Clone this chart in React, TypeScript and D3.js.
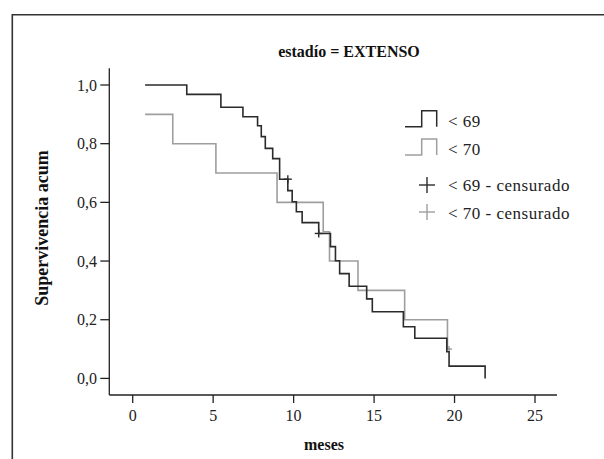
import React from "react";
import * as d3 from "d3";

// ---- data ----
const title = "estadío = EXTENSO";
const xLabel = "meses";
const yLabel = "Supervivencia acum";
const xTicks = [0, 5, 10, 15, 20, 25];
const yTicks = [0, 0.2, 0.4, 0.6, 0.8, 1.0];

// Group "< 69" (black)
const blackTimes = [0.77, 3.36, 5.48, 6.85, 7.76, 7.99, 8.24, 8.7, 9.13, 9.64, 9.91, 10.17, 10.53, 11.56, 12.29, 12.6, 12.86, 13.45, 14.54, 14.89, 16.82, 17.53, 19.52, 19.66, 21.9];
const blackSurv = [1.0, 0.968, 0.924, 0.892, 0.861, 0.824, 0.784, 0.749, 0.679, 0.64, 0.602, 0.568, 0.531, 0.494, 0.449, 0.401, 0.357, 0.314, 0.271, 0.227, 0.176, 0.137, 0.091, 0.042, 0.0];
const blackCensorTimes = [9.64, 11.56];
const blackCensorSurv = [0.679, 0.494];

// Group "< 70" (gray)
const grayTimes = [0.77, 2.49, 5.17, 8.97, 11.84, 12.23, 14.0, 16.9, 19.56, 19.72];
const graySurv = [0.9, 0.8, 0.7, 0.6, 0.5, 0.4, 0.3, 0.2, 0.1, 0.1];
const grayCensorTimes = [19.66];
const grayCensorSurv = [0.1];

const legendLabels = ["< 69", "< 70", "< 69 - censurado", "< 70 - censurado"];

const BLACK = "#2b2b2b";
const GRAY = "#9e9e9e";
const FONT = "'Liberation Serif', 'Times New Roman', serif";

export default function App() {
  const x = d3.scaleLinear().domain([0, 25]).range([132.7, 535]);
  const y = d3.scaleLinear().domain([0, 1]).range([378.4, 85]);
  const axisX0 = 109.3;
  const axisY0 = 395;
  const axisXEnd = 557;
  const axisYTop = 68.3;

  const line = d3
    .line<[number, number]>()
    .x((d) => x(d[0]))
    .y((d) => y(d[1]))
    .curve(d3.curveStepAfter);

  const blackPts: [number, number][] = blackTimes.map((t, i) => [t, blackSurv[i]]);
  const grayPts: [number, number][] = grayTimes.map((t, i) => [t, graySurv[i]]);
  const fmt = (v: number) => d3.format(".1f")(v).replace(".", ",");

  const cross = (cx: number, cy: number, r: number, color: string, key: string) => (
    <g key={key} stroke={color} strokeWidth={1.4}>
      <line x1={cx - r} x2={cx + r} y1={cy} y2={cy} />
      <line x1={cx} x2={cx} y1={cy - r} y2={cy + r} />
    </g>
  );

  const legX = 405;
  const legText = 448;
  const stepSym = (bottom: number) =>
    `M${legX},${bottom}H${legX + 16.7}V${bottom - 16}H${legX + 31.7}V${bottom}`;
  const legStyle = { letterSpacing: "0.5px" };

  return (
    <svg
      width={604}
      height={459}
      style={{ position: "absolute", left: 0, top: 0, background: "#fff" }}
      fontFamily={FONT}
    >
      <rect x={0} y={0} width={604} height={459} fill="#fff" />
      {/* frame */}
      <path d="M12.3,470V14.8H610" fill="none" stroke="#333" strokeWidth={1.6} />

      {/* title */}
      <text x={349} y={57} textAnchor="middle" fontSize={16} fontWeight="bold" fill="#111">
        {title}
      </text>

      {/* axes */}
      <line x1={axisX0} x2={axisX0} y1={axisYTop} y2={axisY0} stroke="#222" strokeWidth={1.3} />
      <line x1={axisX0} x2={axisXEnd} y1={axisY0} y2={axisY0} stroke="#222" strokeWidth={1.3} />
      {yTicks.map((v) => (
        <g key={"y" + v}>
          <line x1={axisX0 - 9} x2={axisX0} y1={y(v)} y2={y(v)} stroke="#222" strokeWidth={1.3} />
          <text x={97} y={y(v) + 5.5} textAnchor="end" fontSize={16} fill="#222">
            {fmt(v)}
          </text>
        </g>
      ))}
      {xTicks.map((v) => (
        <g key={"x" + v}>
          <line x1={x(v)} x2={x(v)} y1={axisY0} y2={axisY0 + 8} stroke="#222" strokeWidth={1.3} />
          <text x={x(v)} y={421} textAnchor="middle" fontSize={16} fill="#222">
            {v}
          </text>
        </g>
      ))}
      <text x={324} y={450} textAnchor="middle" fontSize={16} fontWeight="bold" fill="#111">
        {xLabel}
      </text>
      <text
        transform={`translate(48,228) rotate(-90)`}
        textAnchor="middle"
        fontSize={18}
        fontWeight="bold"
        fill="#111"
      >
        {yLabel}
      </text>

      {/* curves */}
      <path d={line(grayPts) || ""} fill="none" stroke={GRAY} strokeWidth={1.6} />
      {grayCensorTimes.map((t, i) => cross(x(t), y(grayCensorSurv[i]), 3, GRAY, "gc" + i))}
      <path d={line(blackPts) || ""} fill="none" stroke={BLACK} strokeWidth={1.6} />
      {blackCensorTimes.map((t, i) => cross(x(t), y(blackCensorSurv[i]), 4, BLACK, "bc" + i))}

      {/* legend */}
      <path d={stepSym(126.7)} fill="none" stroke={BLACK} strokeWidth={1.5} />
      <text x={legText} y={126.5} fontSize={17} fill="#222" style={legStyle}>{legendLabels[0]}</text>
      <path d={stepSym(155)} fill="none" stroke={GRAY} strokeWidth={1.5} />
      <text x={legText} y={155} fontSize={17} fill="#222" style={legStyle}>{legendLabels[1]}</text>
      {cross(427, 185, 8, BLACK, "lc1")}
      <text x={legText} y={191} fontSize={17} fill="#222" style={legStyle}>{legendLabels[2]}</text>
      {cross(427, 212, 8, GRAY, "lc2")}
      <text x={legText} y={218.5} fontSize={17} fill="#222" style={legStyle}>{legendLabels[3]}</text>
    </svg>
  );
}
